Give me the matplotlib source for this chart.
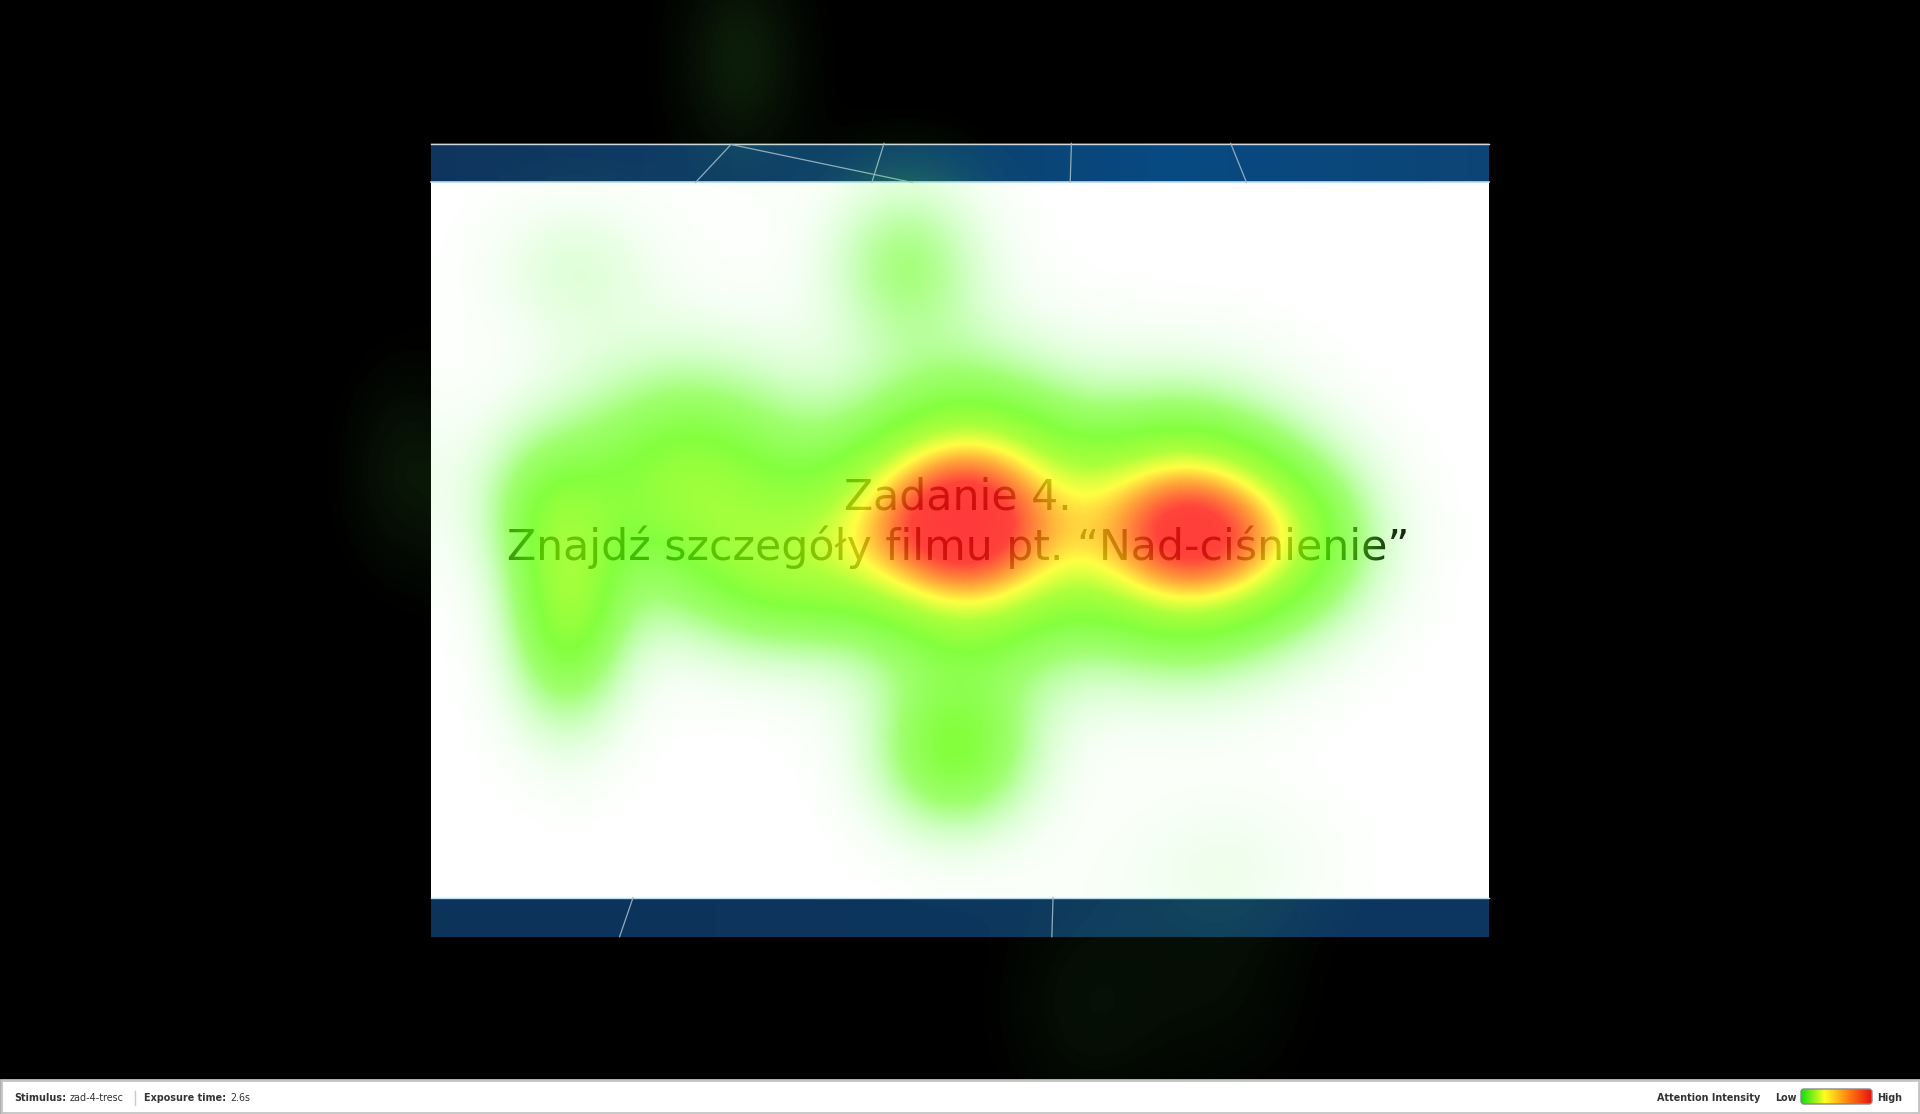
import numpy as np
import matplotlib
matplotlib.use("Agg")
import matplotlib.pyplot as plt
from matplotlib.colors import LinearSegmentedColormap
from matplotlib.patches import Rectangle, FancyBboxPatch

# ---------------- data ----------------
title_line1 = "Zadanie 4."
title_line2 = "Znajdź szczegóły filmu pt. “Nad-ciśnienie”"
stimulus_name = "zad-4-tresc"
exposure_time = "2.6s"

# fixation clusters (screen px, full size 1920x1114)
fix_x = [972, 1185, 690, 567, 540, 784, 906, 955, 575, 1298, 741, 404, 1090, 1224, 1224, 875]
fix_y = [522, 532, 482, 615, 505, 578, 263, 753, 269, 539, 60, 471, 1004, 980, 857, 520]
fix_w = [1.0, 0.95, 0.50, 0.45, 0.20, 0.32, 0.24, 0.40, 0.10, 0.30, 0.07, 0.05, 0.04, 0.03, 0.05, 0.2]
fix_sx = [80, 78, 90, 42, 45, 70, 55, 55, 60, 60, 45, 40, 60, 60, 80, 60]
fix_sy = [90, 80, 80, 75, 55, 55, 60, 55, 50, 60, 75, 70, 80, 80, 50, 60]

W, H = 1920, 1114
fig = plt.figure(figsize=(W / 100, H / 100), dpi=100)
fig.patch.set_facecolor("black")
ax = fig.add_axes([0, 0, 1, 1])
ax.set_xlim(0, W)
ax.set_ylim(H, 0)
ax.axis("off")
ax.set_facecolor("black")

# ---------------- stimulus ----------------
sx0, sx1, sy0, sy1 = 431, 1489, 143, 937
bar_top_end, bar_bot_start = 182, 898
ax.add_patch(Rectangle((sx0, sy0), sx1 - sx0, sy1 - sy0, facecolor="white", edgecolor="none", zorder=1))

top_grad = LinearSegmentedColormap.from_list("tb", [(0, (0.06, 0.21, 0.37)), (0.45, (0.05, 0.25, 0.42)),
                                                     (0.7, (0.03, 0.29, 0.51)), (1, (0.05, 0.27, 0.46))])
bot_grad = LinearSegmentedColormap.from_list("bb", [(0, (0.05, 0.20, 0.35)), (0.5, (0.05, 0.21, 0.37)),
                                                     (1, (0.05, 0.21, 0.38))])
g = np.linspace(0, 1, 256)[None, :]
ax.imshow(g, cmap=top_grad, extent=(sx0, sx1, bar_top_end, sy0), aspect="auto", zorder=1.5)
ax.imshow(g, cmap=bot_grad, extent=(sx0, sx1, sy1, bar_bot_start), aspect="auto", zorder=1.5)
ax.plot([sx0, sx1], [bar_top_end, bar_top_end], color="#b8dcf0", lw=1.2, zorder=1.6)
ax.plot([sx0, sx1], [bar_bot_start, bar_bot_start], color="#b8dcf0", lw=1.0, zorder=1.6)
ax.plot([sx0, sx1], [sy0 + 0.5, sy0 + 0.5], color="#d0d8e0", lw=1.0, zorder=1.6)

s = 1920 / 1568
deco = [((597, 118), (568, 149)), ((597, 118), (745, 149)), ((722, 117), (712, 149)),
        ((875, 117), (874, 149)), ((1005, 117), (1018, 149)),
        ((517, 733), (506, 765)), ((860, 733), (859, 765))]
for (a, b) in deco:
    ax.plot([a[0] * s, b[0] * s], [a[1] * s, b[1] * s], color="#9fb8c8", lw=0.9, alpha=0.9, zorder=1.6)

# ---------------- text ----------------
t2 = ax.text(958, 560, title_line2, ha="center", va="baseline", fontsize=35, color="#050505",
             family="DejaVu Sans", zorder=2)
fig.canvas.draw()
r = fig.canvas.get_renderer()
w = t2.get_window_extent(r).width
fs = 35 * 901 / w
t2.set_fontsize(fs)
ax.text(958, 509, title_line1, ha="center", va="baseline", fontsize=fs, color="#050505",
        family="DejaVu Sans", zorder=2)

# ---------------- heatmap ----------------
xs = np.arange(0, W, 2) + 1.0
ys = np.arange(0, 1080, 2) + 1.0
X, Y = np.meshgrid(xs, ys)
I = np.zeros_like(X)
for x, y, wt, a, b in zip(fix_x, fix_y, fix_w, fix_sx, fix_sy):
    I += wt * np.exp(-((X - x) ** 2 / (2 * a * a) + (Y - y) ** 2 / (2 * b * b)))
V = I / I.max()

stops = [
    (0.00, (0.40, 1.00, 0.30, 0.00)),
    (0.04, (0.40, 1.00, 0.30, 0.07)),
    (0.12, (0.38, 1.00, 0.22, 0.25)),
    (0.25, (0.38, 1.00, 0.06, 0.60)),
    (0.40, (0.36, 1.00, 0.00, 0.76)),
    (0.55, (0.58, 1.00, 0.00, 0.77)),
    (0.67, (1.00, 1.00, 0.05, 0.78)),
    (0.78, (1.00, 0.55, 0.03, 0.80)),
    (0.90, (1.00, 0.10, 0.06, 0.82)),
    (1.00, (1.00, 0.06, 0.06, 0.82)),
]
heat = LinearSegmentedColormap.from_list("heat", [(v, c) for v, c in stops])
ax.imshow(heat(V), extent=(0, W, 1080, 0), interpolation="bilinear", aspect="auto", zorder=3)

# ---------------- footer ----------------
ax.add_patch(Rectangle((1, 1080), W - 2, 33, facecolor="white", edgecolor="#c4c4c4", lw=2, zorder=4))
fy = 1098
fkw = dict(va="center", fontsize=6.9, family="DejaVu Sans", color="#333333", zorder=5)


def pair(x, label, value):
    t = ax.text(x, fy, label, ha="left", fontweight="bold", **fkw)
    fig.canvas.draw()
    x1 = ax.transData.inverted().transform(t.get_window_extent(fig.canvas.get_renderer()))[1][0]
    ax.text(x1 + 4, fy, value, ha="left", **fkw)


pair(14, "Stimulus:", stimulus_name)
ax.plot([135, 135], [1091, 1105], color="#cccccc", lw=1, zorder=5)
pair(144, "Exposure time:", exposure_time)
ax.text(1760, fy, "Attention Intensity", ha="right", fontweight="bold", **fkw)
ax.text(1775, fy, "Low", ha="left", fontweight="bold", **fkw)
ax.text(1877, fy, "High", ha="left", fontweight="bold", **fkw)
legend_cmap = LinearSegmentedColormap.from_list("lg", ["#10e010", "#ffff20", "#ff8010", "#e81010"])
im = ax.imshow(g, cmap=legend_cmap, extent=(1801, 1872, 1104, 1089), aspect="auto", zorder=5)
box = FancyBboxPatch((1801, 1089), 71, 15, boxstyle="round,pad=0,rounding_size=3",
                     facecolor="none", edgecolor="#888888", lw=1, zorder=6)
ax.add_patch(box)
im.set_clip_path(box)

fig.savefig("out.png", dpi=100, facecolor="black")
